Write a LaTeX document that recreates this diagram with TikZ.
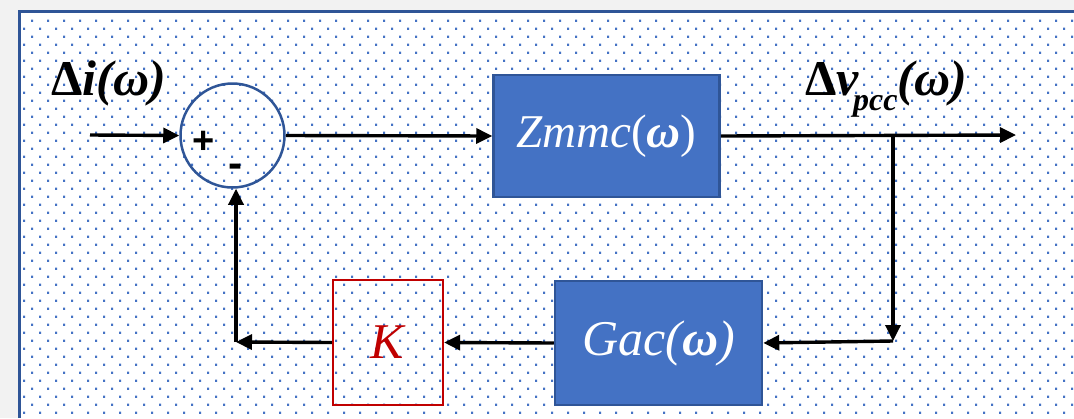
\documentclass[tikz,border=0pt]{standalone}
\usepackage{fontspec}
\setmainfont{Liberation Serif}
\newfontfamily\sansf{Liberation Sans}
\usetikzlibrary{arrows.meta}
\definecolor{fillblue}{RGB}{68,114,196}
\definecolor{edgeblue}{RGB}{47,85,151}
\definecolor{dotblue}{RGB}{68,114,196}
\definecolor{kred}{RGB}{192,0,0}
\definecolor{bggray}{RGB}{242,242,242}
\begin{document}
\begin{tikzpicture}[x=1pt,y=-1pt,
  conn/.style={line width=3.4pt, draw=black},
  arr/.style={conn, -{Triangle[length=16pt,width=15pt]}},
  bluebox/.style={draw=edgeblue, fill=fillblue, line width=2.5pt, text=white, inner sep=0pt},
  redbox/.style={draw=kred, line width=2.2pt, text=kred, inner sep=0pt},
  sumnode/.style={circle, draw=edgeblue, line width=2.5pt, inner sep=0pt, minimum size=104pt},
  bigtext/.style={font=\fontsize{50}{54}\selectfont},
  boxtext/.style={font=\fontsize{47}{50}\selectfont},
  signtext/.style={font=\sansf\bfseries\fontsize{38}{38}\selectfont, inner sep=0pt}
]
\useasboundingbox (0,0) rectangle (1074,418);
\fill[bggray] (0,0) rectangle (1074,418);
\fill[white] (19,11) rectangle (1074,418);
\foreach \m in {0,...,24} {
  \fill[dotblue] \foreach \k in {0,...,65} {(31+16*\k,19.7+16*\m) rectangle ++(2.2,2.2)};
  \fill[dotblue] \foreach \k in {0,...,65} {(23+16*\k,27.7+16*\m) rectangle ++(2.2,2.2)};
}
\draw[edgeblue, line width=3pt] (19.3,418) -- (19.3,11.7) -- (1074,11.7);

\node[sumnode] (sum) at (232.5,135.5) {};
\node[signtext] (plus) at (203.5,142) {+};
\node[signtext, font=\sansf\bfseries\fontsize{42}{42}\selectfont] (minus) at (235.5,171) {-};
\node[bluebox, boxtext, minimum width=226pt, minimum height=122pt] (zmmc) at (606.5,136) {\textit{Zmmc}(\textbf{\textit{ω}})};
\node[bluebox, bigtext, minimum width=207pt, minimum height=124pt] (gac) at (658.5,343) {\textit{Gac(\textbf{ω})}};
\node[redbox, bigtext, minimum width=110pt, minimum height=125pt] (k) at (388,342.5) {\textit{K}};

\node[bigtext, inner sep=0pt] (lin) at (109,83) {\textbf{Δ\textit{i(ω)}}};
\node[bigtext, inner sep=0pt] (lout) at (886,89) {\textbf{Δ\textit{v}\kern-0.12em\raisebox{-0.3em}{\fontsize{32}{32}\selectfont\textit{pcc}}\textit{(ω)}}};

\coordinate (in) at (90,135);
\coordinate (out) at (1016,135);
\coordinate (br) at (893,135);
\coordinate (c1) at (893,341);
\coordinate (c2) at (236,342);

\draw[arr] (in) -- (sum.west);
\draw[arr] (sum.east) -- (zmmc.west);
\draw[arr] (zmmc.east) -- (out);
\draw[arr] (br) -- (c1);
\draw[arr] (c1) -- (gac.east);
\draw[arr] (gac.west) -- (k.east);
\draw[arr] (k.west) -- (c2);
\draw[arr] (c2) -- (c2 |- sum.south);
\end{tikzpicture}
\end{document}
